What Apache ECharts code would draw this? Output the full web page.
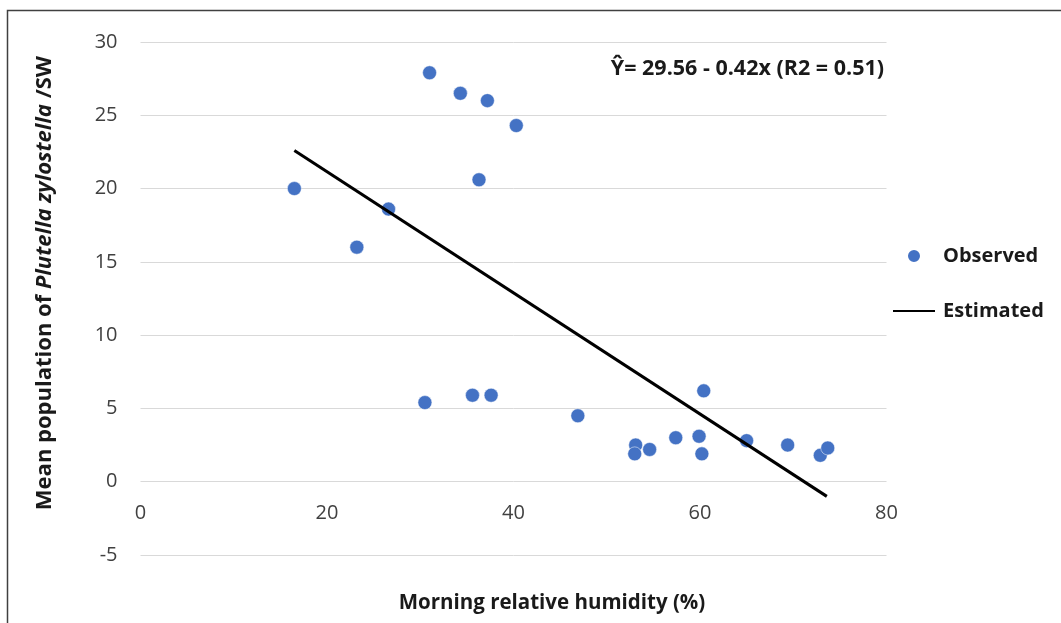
<!DOCTYPE html>
<html>
<head>
<meta charset="utf-8">
<script src="https://cdn.jsdelivr.net/npm/echarts@6/dist/echarts.min.js"></script>
<style>html,body{margin:0;padding:0;background:#fff;}#c{width:1061px;height:623px;}</style>
</head>
<body>
<div id="c"></div>
<script>
var observedX = [31.0, 34.3, 37.2, 40.3, 36.3, 16.5, 26.6, 23.2, 30.5, 35.6, 37.6, 46.9, 53.1, 53.0, 54.6, 57.4, 59.9, 60.2, 60.4, 65.0, 69.4, 72.9, 73.7];
var observedY = [27.9, 26.5, 26.0, 24.3, 20.6, 20.0, 18.6, 16.0, 5.4, 5.9, 5.9, 4.5, 2.5, 1.9, 2.2, 3.0, 3.1, 1.9, 6.2, 2.8, 2.5, 1.8, 2.3];
var estimatedX = [16.5, 73.6];
var estimatedY = [22.6, -1.0];
var xTicks = [0, 20, 40, 60, 80];
var yTicks = [-5, 0, 5, 10, 15, 20, 25, 30];
var equationText = 'Ŷ= 29.56 - 0.42x (R2 = 0.51)';
var xTitle = 'Morning relative humidity (%)';

var FONT = '"Open Sans", "DejaVu Sans", sans-serif';
var obs = observedX.map(function (x, i) { return [x, observedY[i]]; });
var est = estimatedX.map(function (x, i) { return [x, estimatedY[i]]; });

var gridTop = 42, gridBottom = 68, chartH = 623;
var plotH = chartH - gridTop - gridBottom;
var yMin = yTicks[0], yMax = yTicks[yTicks.length - 1];
// x axis labels sit along the y = 0 line, as in the reference
var zeroOffset = -plotH * (0 - yMin) / (yMax - yMin);

var chart = echarts.init(document.getElementById('c'));
chart.setOption({
  animation: false,
  backgroundColor: '#fff',
  textStyle: { fontFamily: FONT },
  grid: { left: 140.5, right: 174.5, top: gridTop, bottom: gridBottom, containLabel: false },
  xAxis: {
    type: 'value', min: xTicks[0], max: xTicks[xTicks.length - 1], interval: 20,
    position: 'bottom', offset: zeroOffset,
    axisLine: { show: false, onZero: false },
    axisTick: { show: false },
    splitLine: { show: false },
    axisLabel: { fontFamily: FONT, fontSize: 20, color: '#404040', margin: 22 }
  },
  yAxis: {
    type: 'value', min: yMin, max: yMax, interval: 5,
    axisLine: { show: false, onZero: false },
    axisTick: { show: false },
    splitLine: { show: true, lineStyle: { color: '#d9d9d9', width: 1 } },
    axisLabel: { fontFamily: FONT, fontSize: 20, color: '#404040', margin: 23 }
  },
  legend: {
    orient: 'vertical', left: 887, top: 240, itemWidth: 42, itemHeight: 14, itemGap: 33,
    textStyle: { fontFamily: FONT, fontSize: 20, fontWeight: 'bold', color: '#1a1a1a', lineHeight: 22, padding: [0, 0, 0, 3] },
    data: [
      { name: 'Observed', icon: 'circle' },
      { name: 'Estimated', itemStyle: { color: 'rgba(0,0,0,0)', borderWidth: 0 } }
    ]
  },
  series: [
    {
      name: 'Observed', type: 'scatter', data: obs, symbol: 'circle', symbolSize: 14,
      itemStyle: { color: '#4472C4', opacity: 1, borderColor: '#ffffff', borderWidth: 0.5 }
    },
    {
      name: 'Estimated', type: 'line', data: est, symbol: 'none', showSymbol: false,
      lineStyle: { color: '#000000', width: 3 }, itemStyle: { color: 'rgba(0,0,0,0)' }
    }
  ],
  graphic: [
    { type: 'rect', silent: true, shape: { x: 7.5, y: 10.5, width: 1200, height: 800 },
      style: { fill: 'none', stroke: '#404040', lineWidth: 1.5 } },
    { type: 'text', x: 884, y: 69,
      style: { text: equationText, font: 'bold 21.5px ' + FONT, fill: '#1a1a1a', textAlign: 'right', textVerticalAlign: 'middle' } },
    { type: 'text', x: 552, y: 603,
      style: { text: xTitle, font: 'bold 20.5px ' + FONT, fill: '#1a1a1a', textAlign: 'center', textVerticalAlign: 'middle' } },
    { type: 'text', x: 45, y: 283, rotation: Math.PI / 2,
      style: {
        text: '{n|Mean population of }{i|Plutella zylostella}{n| /SW}',
        textAlign: 'center', textVerticalAlign: 'middle', fill: '#1a1a1a',
        rich: {
          n: { fontFamily: FONT, fontSize: 22, fontWeight: 'bold', fill: '#1a1a1a', color: '#1a1a1a' },
          i: { fontFamily: FONT, fontSize: 22, fontWeight: 'bold', fontStyle: 'italic', fill: '#1a1a1a', color: '#1a1a1a' }
        }
      } }
  ]
});
</script>
</body>
</html>
